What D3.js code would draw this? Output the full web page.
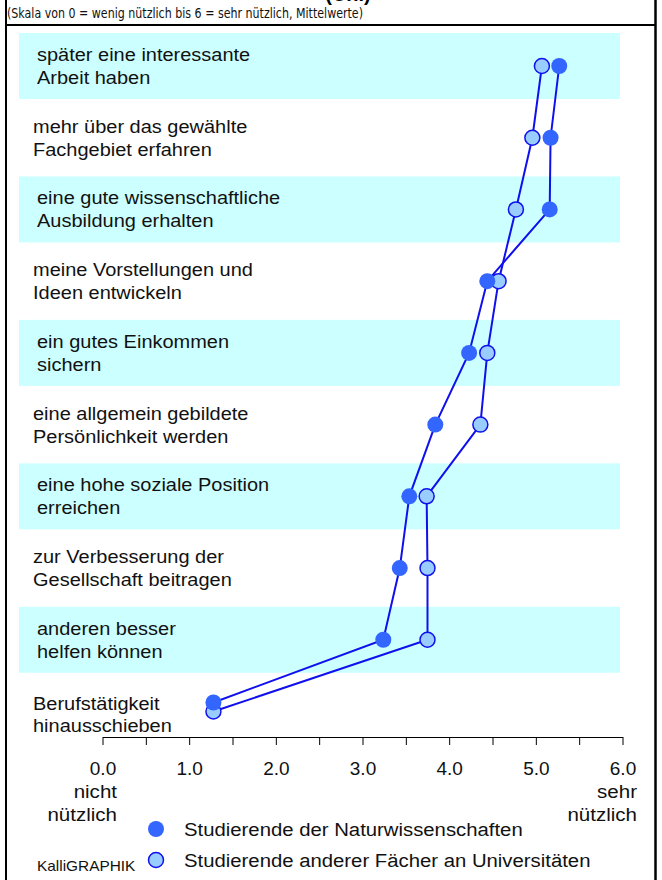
<!DOCTYPE html>
<html><head><meta charset="utf-8">
<script src="https://cdn.jsdelivr.net/npm/d3@7"></script>
<style>body{margin:0;background:#fff} svg{display:block}</style>
</head><body><svg id="c" width="662" height="880"></svg>
<script>
const categories = [
  ["später eine interessante", "Arbeit haben"],
  ["mehr über das gewählte", "Fachgebiet erfahren"],
  ["eine gute wissenschaftliche", "Ausbildung erhalten"],
  ["meine Vorstellungen und", "Ideen entwickeln"],
  ["ein gutes Einkommen", "sichern"],
  ["eine allgemein gebildete", "Persönlichkeit werden"],
  ["eine hohe soziale Position", "erreichen"],
  ["zur Verbesserung der", "Gesellschaft beitragen"],
  ["anderen besser", "helfen können"],
  ["Berufstätigkeit", "hinausschieben"]
];
const naturwiss = [5.27, 5.17, 5.16, 4.44, 4.23, 3.84, 3.54, 3.43, 3.24, 1.28];
const andere    = [5.07, 4.96, 4.77, 4.57, 4.44, 4.36, 3.74, 3.75, 3.75, 1.28];
const seriesNames = ["Studierende der Naturwissenschaften", "Studierende anderer Fächer an Universitäten"];
const tickValues = [0, 0.5, 1, 1.5, 2, 2.5, 3, 3.5, 4, 4.5, 5, 5.5, 6];
const tickLabels = {0: "0.0", 1: "1.0", 2: "2.0", 3: "3.0", 4: "4.0", 5: "5.0", 6: "6.0"};
const endLabelsLeft = ["nicht", "nützlich"];
const endLabelsRight = ["sehr", "nützlich"];
const titleText = "(Uni)";
const subtitle = "(Skala von 0 = wenig nützlich bis 6 = sehr nützlich, Mittelwerte)";
const credit = "KalliGRAPHIK";

const svg = d3.select("#c");
const FONT = "'Liberation Sans', Arial, Helvetica, sans-serif";
const LINE = "#1010ee", DARK = "#3366ff", LIGHT = "#99ccff", BAND = "#ccffff";
const SX = 1.08;

function wideText(parent, px, py, str, opts = {}) {
  const g = parent.append("g").attr("transform", `translate(${px},${py}) scale(${opts.sx || SX},1)`);
  return g.append("text").attr("x", 0).attr("y", 0)
    .attr("font-family", FONT).attr("font-size", opts.size || 18.5).attr("fill", "#111")
    .attr("text-anchor", opts.anchor || "start").text(str);
}

const x = d3.scaleLinear().domain([0, 6]).range([102.5, 622.5]);
const y = d3.scaleLinear().domain([0, categories.length - 1]).range([66, 711.5]);
const bandH = 66;

// frame
svg.append("line").attr("x1", 6).attr("x2", 6).attr("y1", 0).attr("y2", 880).attr("stroke", "#000").attr("stroke-width", 2);
svg.append("line").attr("x1", 655.5).attr("x2", 655.5).attr("y1", 0).attr("y2", 880).attr("stroke", "#000").attr("stroke-width", 2.5);
svg.append("line").attr("x1", 6).attr("x2", 656).attr("y1", 25).attr("y2", 25).attr("stroke", "#000").attr("stroke-width", 2);

// title (cut off at top edge, as in the reference)
svg.append("text").attr("x", 348).attr("y", 1).attr("text-anchor", "middle")
  .attr("font-family", FONT).attr("font-weight", "bold").attr("font-size", 20).text(titleText);

svg.append("text").attr("x", 7).attr("y", 18)
  .attr("font-family", "'Liberation Sans Narrow','DejaVu Sans Condensed','Open Sans',sans-serif")
  .attr("font-size", 14).attr("textLength", 356).attr("lengthAdjust", "spacingAndGlyphs")
  .attr("fill", "#111").text(subtitle);

// bands
svg.append("g").selectAll("rect").data(categories.map((c, i) => i).filter(i => i % 2 === 0))
  .join("rect")
  .attr("x", 19).attr("width", 601)
  .attr("y", i => y(i) - bandH / 2).attr("height", bandH)
  .attr("fill", BAND);

// category labels
const lg = svg.append("g");
categories.forEach((c, i) => {
  const last = i === categories.length - 1;
  const lx = i % 2 === 0 ? 37 : 33;
  wideText(lg, lx, y(i) + (last ? -2 : -5), c[0]);
  wideText(lg, lx, y(i) + (last ? 20 : 18), c[1]);
});

// point y offsets when the two series coincide
const same = naturwiss.map((v, i) => Math.abs(v - andere[i]) < 0.05);
const yDark = i => y(i) - (same[i] ? 9 : 0);
const yLight = i => y(i);

const lineDark = d3.line().x(d => x(d[0])).y(d => yDark(d[1]));
const lineLight = d3.line().x(d => x(d[0])).y(d => yLight(d[1]));
svg.append("path").attr("d", lineLight(andere.map((v, i) => [v, i])))
  .attr("fill", "none").attr("stroke", LINE).attr("stroke-width", 2);
svg.append("path").attr("d", lineDark(naturwiss.map((v, i) => [v, i])))
  .attr("fill", "none").attr("stroke", LINE).attr("stroke-width", 2);

svg.append("g").selectAll("circle").data(andere).join("circle")
  .attr("cx", d => x(d)).attr("cy", (d, i) => yLight(i)).attr("r", 7.5)
  .attr("fill", LIGHT).attr("stroke", LINE).attr("stroke-width", 1.5);
svg.append("g").selectAll("circle").data(naturwiss).join("circle")
  .attr("cx", d => x(d)).attr("cy", (d, i) => yDark(i)).attr("r", 8)
  .attr("fill", DARK);

// axis
const axisY = 737;
const axis = d3.axisBottom(x).tickValues(tickValues).tickSize(8).tickSizeOuter(0)
  .tickPadding(17).tickFormat(d => tickLabels[d] || "");
const ag = svg.append("g").attr("transform", `translate(0,${axisY})`).call(axis);
ag.selectAll("path, line").attr("stroke", "#000");
ag.selectAll("text").attr("font-family", FONT).attr("font-size", 19).attr("fill", "#111");

const eg = svg.append("g");
endLabelsLeft.forEach((t, k) => wideText(eg, x(0) + 14.5, 798 + k * 23, t, {anchor: "end", size: 19}));
endLabelsRight.forEach((t, k) => wideText(eg, x(6) + 14.5, 798 + k * 23, t, {anchor: "end", size: 19}));

// legend
const leg = svg.append("g");
const legY = [829, 860];
leg.append("circle").attr("cx", 156).attr("cy", legY[0]).attr("r", 8).attr("fill", DARK);
leg.append("circle").attr("cx", 156).attr("cy", legY[1]).attr("r", 7.5).attr("fill", LIGHT).attr("stroke", LINE).attr("stroke-width", 1.5);
seriesNames.forEach((s, k) => wideText(leg, 184, legY[k] + 7, s, {size: 19, sx: 1.07}));

wideText(svg, 37, 871, credit, {size: 14, sx: 1.1});
</script></body></html>
